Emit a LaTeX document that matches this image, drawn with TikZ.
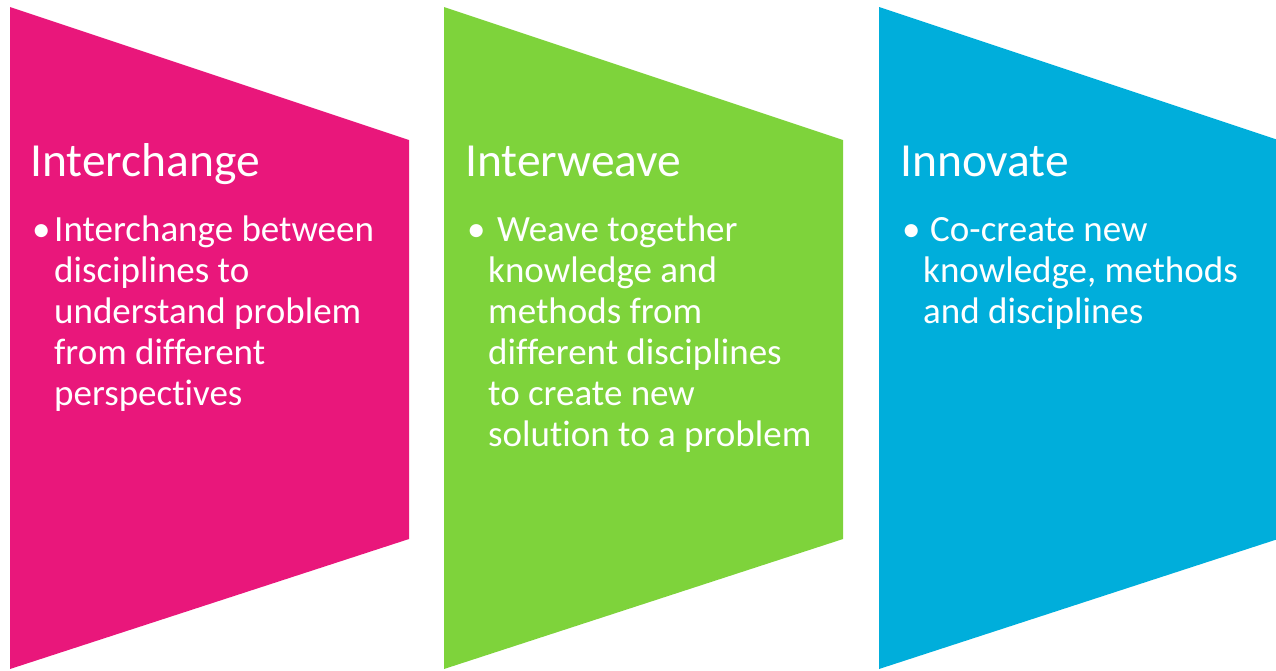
\documentclass[tikz,border=0pt]{standalone}
\usepackage{fontspec}
\setmainfont[Ligatures=NoCommon]{Carlito}
\definecolor{cpink}{RGB}{233,23,123}
\definecolor{cgreen}{RGB}{126,211,59}
\definecolor{cblue}{RGB}{0,174,219}
\begin{document}
\begin{tikzpicture}[x=1pt,y=-1pt,
  title/.style={anchor=base west,inner sep=0pt,text=white,font=\fontsize{47.5}{56}\selectfont},
  body/.style={anchor=base west,inner sep=0pt,text=white,font=\fontsize{37}{41}\selectfont},
  bul/.style={anchor=base west,inner sep=0pt,text=white,font=\fontsize{37}{41}\selectfont}]
\useasboundingbox (0,0) rectangle (1276,670);
\fill[cpink] (10,7) -- (409,140) -- (409,539) -- (10,669) -- cycle;
\fill[cgreen] (444,7) -- (843,140) -- (843,539) -- (444,669) -- cycle;
\fill[cblue] (879,7) -- (1278,140) -- (1278,539) -- (879,669) -- cycle;
% pink
\node[title] (t1) at (30,176.7) {Interchange};
\node[bul] (b1) at (32,241.5) {•};
\node[body] (p1) at (54,241.5) {Interchange between};
\node[body] (p2) at (54,282.5) {disciplines to};
\node[body] (p3) at (54,323.5) {understand problem};
\node[body] (p4) at (54,364.5) {from different};
\node[body] (p5) at (54,405.5) {perspectives};
% green
\node[title] (t2) at (465,176.7) {Interweave};
\node[bul] (b2) at (467,241.5) {•};
\node[body] (g1) at (497,241.5) {Weave together};
\node[body] (g2) at (488,282.5) {knowledge and};
\node[body] (g3) at (488,323.5) {methods from};
\node[body] (g4) at (488,364.5) {different disciplines};
\node[body] (g5) at (488,405.5) {to create new};
\node[body] (g6) at (488,446.5) {solution to a problem};
% blue
\node[title] (t3) at (900,176.7) {Innovate};
\node[bul] (b3) at (902,241.5) {•};
\node[body] (c1) at (930,241.5) {Co-create new};
\node[body] (c2) at (923,282.5) {knowledge, methods};
\node[body] (c3) at (923,323.5) {and disciplines};
\end{tikzpicture}
\end{document}
